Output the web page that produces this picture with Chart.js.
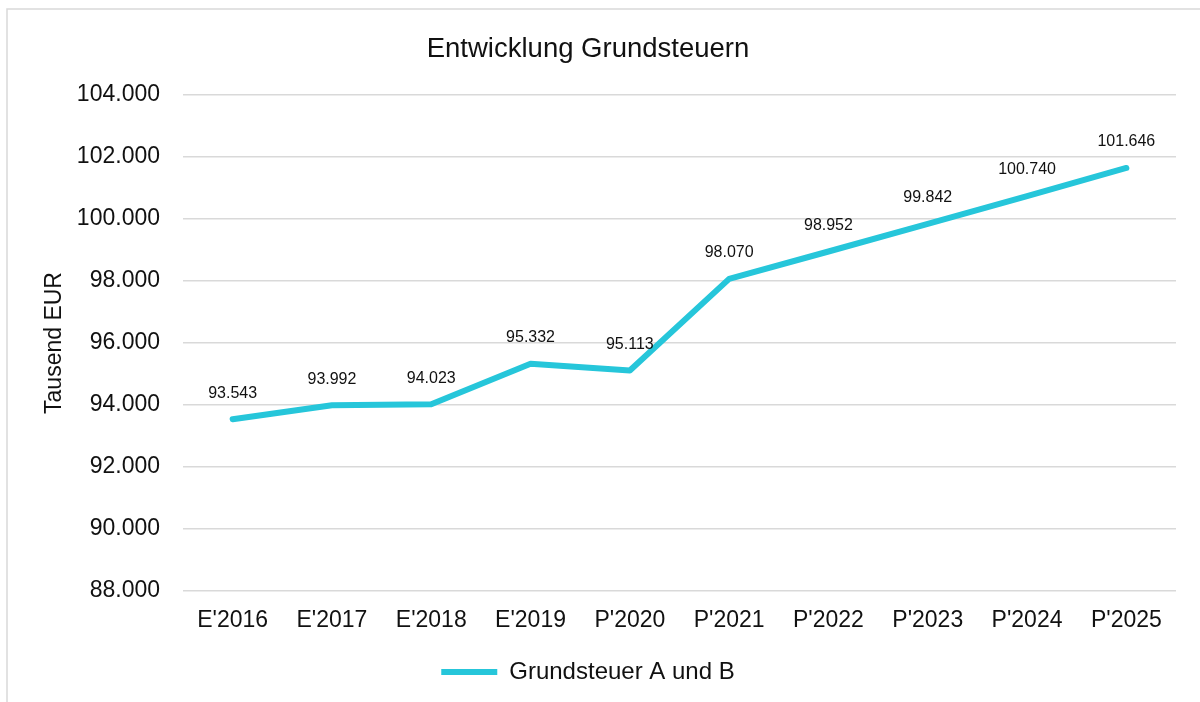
<!DOCTYPE html>
<html lang="de">
<head>
<meta charset="utf-8">
<title>Entwicklung Grundsteuern</title>
<script src="https://cdn.jsdelivr.net/npm/chart.js@4.4.0/dist/chart.umd.min.js"></script>
<style>
    html, body { margin: 0; padding: 0; background: #fff; }
    #chart { display: block; }
</style>
</head>
<body>
<canvas id="chart" width="1200" height="702"></canvas>
<script>
// Jahre (E = Ergebnis, P = Planung)
const years = ["E'2016", "E'2017", "E'2018", "E'2019", "P'2020", "P'2021", "P'2022", "P'2023", "P'2024", "P'2025"];
// Grundsteuer A und B in Tausend EUR
const grundsteuer = [93543, 93992, 94023, 95332, 95113, 98070, 98952, 99842, 100740, 101646];
const yMin = 88000;
const yMax = 104000;
const yStep = 2000;

const lineColor = 'rgb(38, 198, 218)';
const textColor = '#111';
const gridColor = '#d9d9d9';
const fontFamily = '"Liberation Sans", Arial, sans-serif';

// 93543 -> "93.543"
const formatDe = (v) => String(Math.round(v)).replace(/\B(?=(\d{3})+(?!\d))/g, '.');

// light frame on the left and top edge
const framePlugin = {
    id: 'frame',
    beforeDraw(chart) {
        const ctx = chart.ctx;
        ctx.save();
        ctx.strokeStyle = gridColor;
        ctx.lineWidth = 1.5;
        ctx.beginPath();
        ctx.moveTo(7, chart.height);
        ctx.lineTo(7, 9);
        ctx.lineTo(chart.width, 9);
        ctx.stroke();
        ctx.restore();
    },
};

// value labels above each point
const valueLabels = {
    id: 'valueLabels',
    afterDatasetsDraw(chart) {
        const ctx = chart.ctx;
        const meta = chart.getDatasetMeta(0);
        const data = chart.data.datasets[0].data;
        ctx.save();
        ctx.font = '16px ' + fontFamily;
        ctx.fillStyle = textColor;
        ctx.textAlign = 'center';
        ctx.textBaseline = 'middle';
        meta.data.forEach((pt, i) => {
            ctx.fillText(formatDe(data[i]), pt.x, pt.y - 26);
        });
        ctx.restore();
    },
};

new Chart(document.getElementById('chart'), {
    type: 'line',
    data: {
        labels: years,
        datasets: [{
            label: 'Grundsteuer A und B',
            data: grundsteuer,
            borderColor: lineColor,
            backgroundColor: lineColor,
            borderWidth: 6,
            borderCapStyle: 'round',
            borderJoinStyle: 'round',
            pointRadius: 0,
            pointHoverRadius: 0,
            tension: 0,
            fill: false,
        }],
    },
    options: {
        responsive: false,
        animation: false,
        layout: {
            padding: { top: 0, left: 0, right: 24, bottom: 8 },
        },
        plugins: {
            title: {
                display: true,
                text: 'Entwicklung Grundsteuern',
                color: textColor,
                font: { family: fontFamily, size: 27.5, weight: 'normal' },
                padding: { top: 33, bottom: 29 },
            },
            legend: {
                position: 'bottom',
                labels: {
                    color: textColor,
                    font: { family: fontFamily, size: 24 },
                    usePointStyle: true,
                    pointStyle: 'line',
                    pointStyleWidth: 56,
                    padding: 19,
                },
            },
            tooltip: { enabled: false },
        },
        scales: {
            x: {
                offset: true,
                grid: { display: false, drawTicks: false },
                border: { display: false },
                ticks: {
                    color: textColor,
                    font: { family: fontFamily, size: 23 },
                    padding: 16,
                    maxRotation: 0,
                    autoSkip: false,
                },
                afterFit: (scale) => { scale.height = 50; },
            },
            y: {
                min: yMin,
                max: yMax,
                grid: { color: gridColor, lineWidth: 1.5, drawTicks: false },
                border: { display: false },
                ticks: {
                    stepSize: yStep,
                    color: textColor,
                    font: { family: fontFamily, size: 23 },
                    padding: 23,
                    callback: (v) => formatDe(v),
                },
                title: {
                    display: true,
                    text: 'Tausend EUR',
                    color: textColor,
                    font: { family: fontFamily, size: 23 },
                    padding: { top: 41, bottom: 0 },
                },
                afterFit: (scale) => { scale.width = 183; },
            },
        },
    },
    plugins: [framePlugin, valueLabels],
});
</script>
</body>
</html>
